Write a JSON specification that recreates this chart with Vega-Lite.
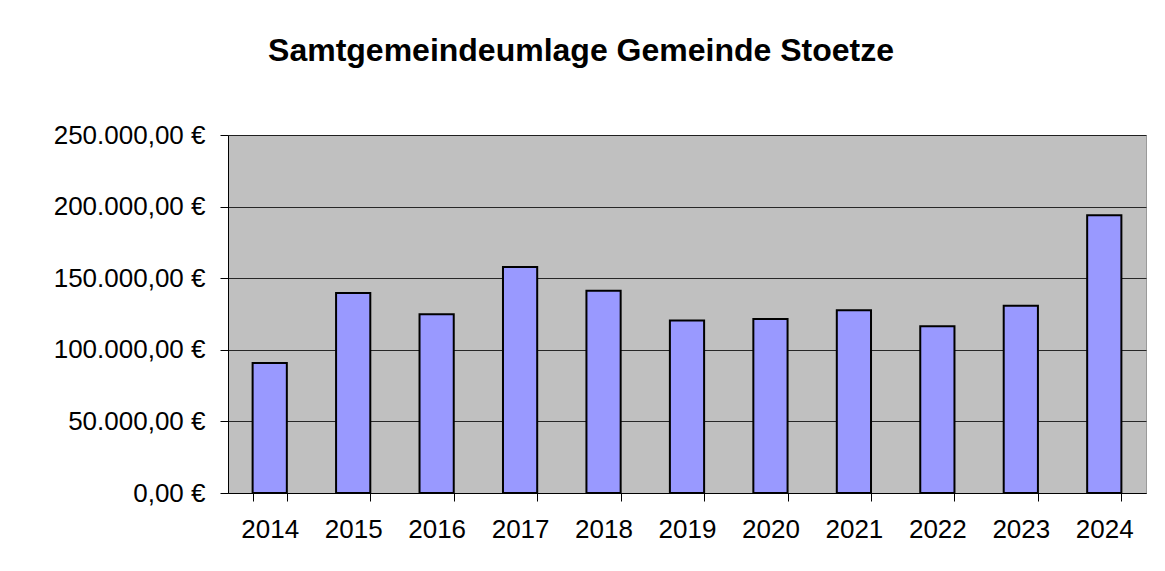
{
  "$schema": "https://vega.github.io/schema/vega-lite/v6.json",
  "width": 918,
  "height": 358,
  "autosize": {"type": "none"},
  "padding": {"left": 228, "top": 135, "right": 19, "bottom": 78},
  "background": "white",
  "title": {
    "text": "Samtgemeindeumlage Gemeinde Stoetze",
    "anchor": "middle",
    "dx": -106,
    "offset": 29,
    "baseline": "alphabetic",
    "font": "Liberation Sans",
    "fontSize": 32,
    "fontWeight": "bold",
    "color": "#000000"
  },
  "data": {
    "values": [
      {"Jahr": "2014", "Betrag": 90800},
      {"Jahr": "2015", "Betrag": 139600},
      {"Jahr": "2016", "Betrag": 124800},
      {"Jahr": "2017", "Betrag": 157800},
      {"Jahr": "2018", "Betrag": 141300},
      {"Jahr": "2019", "Betrag": 120400},
      {"Jahr": "2020", "Betrag": 121500},
      {"Jahr": "2021", "Betrag": 127600},
      {"Jahr": "2022", "Betrag": 116400},
      {"Jahr": "2023", "Betrag": 130800},
      {"Jahr": "2024", "Betrag": 193900}
    ]
  },
  "mark": {"type": "bar", "fill": "#9999FF", "stroke": "#000000", "strokeWidth": 2},
  "encoding": {
    "x": {
      "field": "Jahr",
      "type": "ordinal",
      "scale": {"paddingInner": 0.59, "paddingOuter": 0.295},
      "axis": {
        "title": null,
        "labelAngle": 0,
        "tickBand": "extent",
        "tickSize": 8,
        "labelPadding": 15,
        "domainColor": "#000000",
        "tickColor": "#000000",
        "domainWidth": 1,
        "tickWidth": 1
      }
    },
    "y": {
      "field": "Betrag",
      "type": "quantitative",
      "scale": {"domain": [0, 250000], "nice": false},
      "axis": {
        "title": null,
        "values": [0, 50000, 100000, 150000, 200000, 250000],
        "format": "$,.2f",
        "grid": true,
        "gridColor": "#000000",
        "gridOpacity": 0.8,
        "gridWidth": 1,
        "tickSize": 8,
        "labelPadding": 15,
        "domainColor": "#000000",
        "tickColor": "#000000"
      }
    }
  },
  "config": {
    "locale": {
      "number": {
        "decimal": ",",
        "thousands": ".",
        "grouping": [3],
        "currency": ["", " €"]
      }
    },
    "view": {"fill": "#C0C0C0", "stroke": "#9a9a9a", "strokeWidth": 1},
    "axis": {
      "labelFont": "Liberation Sans",
      "labelFontSize": 26,
      "labelColor": "#000000"
    }
  }
}
